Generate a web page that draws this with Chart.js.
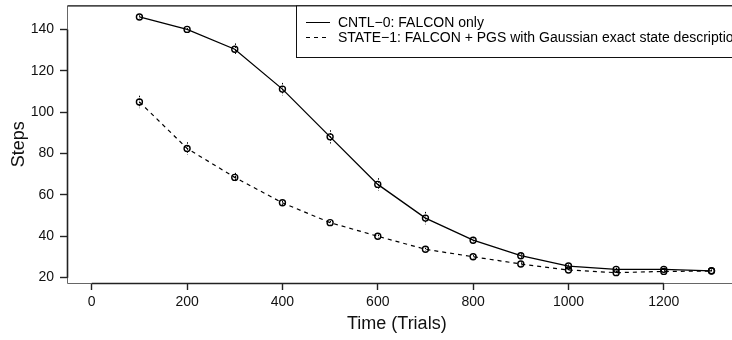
<!DOCTYPE html>
<html>
<head>
<meta charset="utf-8">
<script src="https://cdn.jsdelivr.net/npm/chart.js@4/dist/chart.umd.min.js"></script>
<style>
  html, body { margin: 0; padding: 0; background: #fff; }
  #wrap { width: 732px; height: 340px; }
</style>
</head>
<body>
<div id="wrap"><canvas id="chart" width="732" height="340"></canvas></div>
<script>
const trials = [100, 200, 300, 400, 500, 600, 700, 800, 900, 1000, 1100, 1200, 1300];
const cntlSteps = [146.1, 140.1, 130.5, 111.2, 88.1, 65.1, 48.8, 38.1, 30.6, 25.6, 24.0, 24.0, 23.3];
const cntlErr = [0.8, 0.6, 2.8, 3.0, 3.2, 3.0, 3.0, 1.6, 1.2, 0.8, 0.8, 0.8, 0.6];
const stateSteps = [105.0, 82.5, 68.5, 56.2, 46.6, 40.0, 33.7, 30.1, 26.6, 23.7, 22.4, 23.0, 23.2];
const stateErr = [3.0, 3.0, 2.2, 1.0, 0.8, 0.8, 0.8, 0.8, 0.8, 0.6, 0.8, 0.6, 0.6];
const seriesLabels = ['CNTL\u22120: FALCON only', 'STATE\u22121: FALCON + PGS with Gaussian exact state description'];
const xTicks = [0, 200, 400, 600, 800, 1000, 1200];
const yTicks = [20, 40, 60, 80, 100, 120, 140];

const FONT = "'Liberation Sans', Arial, Helvetica, sans-serif";

function toPoints(xs, ys) {
  return xs.map((x, i) => ({ x, y: ys[i] }));
}

const framePlugin = {
  id: 'frame',
  afterDatasetsDraw(chart) {
    const { ctx, chartArea, scales } = chart;
    const xs = scales.x;
    const ys = scales.y;
    ctx.save();

    // error bars (dotted)
    const errs = [cntlErr, stateErr];
    chart.data.datasets.forEach((ds, di) => {
      ctx.strokeStyle = '#000';
      ctx.lineWidth = 1;
      ctx.setLineDash([1.5, 1.5]);
      ds.data.forEach((p, i) => {
        const px = Math.round(xs.getPixelForValue(p.x)) + 0.5;
        const e = errs[di][i];
        ctx.beginPath();
        ctx.moveTo(px, ys.getPixelForValue(p.y + e));
        ctx.lineTo(px, ys.getPixelForValue(p.y - e));
        ctx.stroke();
      });
    });
    ctx.setLineDash([]);

    // box (top, left, bottom)
    const L = chartArea.left + 0.5;
    const T = chartArea.top + 0.5;
    const B = chartArea.bottom + 0.5;
    const R = chart.width + 2;
    ctx.strokeStyle = '#666';
    ctx.lineWidth = 1;
    ctx.beginPath();
    ctx.moveTo(R, T);
    ctx.lineTo(L, T);
    ctx.lineTo(L, B);
    ctx.lineTo(R, B);
    ctx.stroke();
    ctx.strokeStyle = '#111';
    ctx.beginPath();
    ctx.moveTo(L, T);
    ctx.lineTo(R, T);
    ctx.stroke();

    // axis lines between first and last tick
    ctx.strokeStyle = '#222';
    ctx.lineWidth = 1.6;
    ctx.beginPath();
    ctx.moveTo(xs.getPixelForValue(xTicks[0]), B);
    ctx.lineTo(xs.getPixelForValue(xTicks[xTicks.length - 1]), B);
    ctx.moveTo(L, ys.getPixelForValue(yTicks[0]));
    ctx.lineTo(L, ys.getPixelForValue(yTicks[yTicks.length - 1]));
    ctx.stroke();

    // legend box
    const lx = 296.5;
    const ly = chartArea.top + 0.5;
    const lb = 57.5;
    ctx.fillStyle = '#fff';
    ctx.fillRect(lx, ly, chart.width - lx + 2, lb - ly);
    ctx.strokeStyle = '#111';
    ctx.lineWidth = 1;
    ctx.strokeRect(lx, ly, chart.width - lx + 10, lb - ly);

    const rows = [22, 37];
    chart.data.datasets.forEach((ds, i) => {
      const y = rows[i] + 0.5;
      ctx.strokeStyle = '#000';
      ctx.lineWidth = 1;
      ctx.setLineDash(ds.borderDash || []);
      ctx.beginPath();
      ctx.moveTo(306, y);
      ctx.lineTo(330, y);
      ctx.stroke();
      ctx.setLineDash([]);
      ctx.fillStyle = '#000';
      ctx.font = `14px ${FONT}`;
      ctx.textBaseline = 'middle';
      ctx.textAlign = 'left';
      ctx.fillText(ds.label, 338, rows[i] + 1);
    });

    ctx.restore();
  }
};

function renderChart() {
  const ctx = document.getElementById('chart');
  if (!ctx) return;

  const tickFont = { family: FONT, size: 14 };
  const titleFont = { family: FONT, size: 18 };

  new Chart(ctx, {
    type: 'line',
    data: {
      datasets: [
        {
          label: seriesLabels[0],
          data: toPoints(trials, cntlSteps),
          borderColor: '#000',
          borderWidth: 1.3,
          tension: 0,
          pointRadius: 3,
          pointBorderWidth: 1.4,
          pointBorderColor: '#000',
          pointBackgroundColor: 'rgba(0,0,0,0)'
        },
        {
          label: seriesLabels[1],
          data: toPoints(trials, stateSteps),
          borderColor: '#000',
          borderWidth: 1.2,
          borderDash: [4, 4],
          tension: 0,
          pointRadius: 3,
          pointBorderWidth: 1.4,
          pointBorderColor: '#000',
          pointBackgroundColor: 'rgba(0,0,0,0)'
        }
      ]
    },
    options: {
      responsive: false,
      animation: false,
      layout: { padding: { top: 5, right: 0, bottom: 0, left: 0 } },
      plugins: {
        legend: { display: false },
        tooltip: { enabled: false }
      },
      scales: {
        x: {
          type: 'linear',
          min: -51.9,
          max: 1331.7,
          afterBuildTicks: (scale) => {
            scale.ticks = xTicks.map((v) => ({ value: v }));
          },
          afterFit: (scale) => {
            scale.height = 57;
            scale.paddingLeft = 0;
            scale.paddingRight = 0;
          },
          grid: {
            drawOnChartArea: false,
            drawTicks: true,
            tickLength: 7,
            tickWidth: 1.4,
            tickColor: '#222'
          },
          border: { display: false },
          ticks: {
            color: '#111',
            font: tickFont,
            padding: 4,
            maxRotation: 0,
            autoSkip: false,
            callback: (value) => String(value)
          },
          title: {
            display: true,
            text: 'Time (Trials)',
            color: '#111',
            font: titleFont,
            padding: { top: 0, bottom: 5 }
          }
        },
        y: {
          type: 'linear',
          min: 17.4,
          max: 151.7,
          afterBuildTicks: (scale) => {
            scale.ticks = yTicks.map((v) => ({ value: v }));
          },
          afterFit: (scale) => {
            scale.width = 67;
            scale.paddingTop = 0;
            scale.paddingBottom = 0;
          },
          grid: {
            drawOnChartArea: false,
            drawTicks: true,
            tickLength: 7,
            tickWidth: 1.4,
            tickColor: '#222'
          },
          border: { display: false },
          ticks: {
            color: '#111',
            font: tickFont,
            padding: 6,
            autoSkip: false,
            callback: (value) => String(value)
          },
          title: {
            display: true,
            text: 'Steps',
            color: '#111',
            font: titleFont,
            padding: { top: 8, bottom: 0 }
          }
        }
      }
    },
    plugins: [framePlugin]
  });
}

renderChart();
</script>
</body>
</html>
